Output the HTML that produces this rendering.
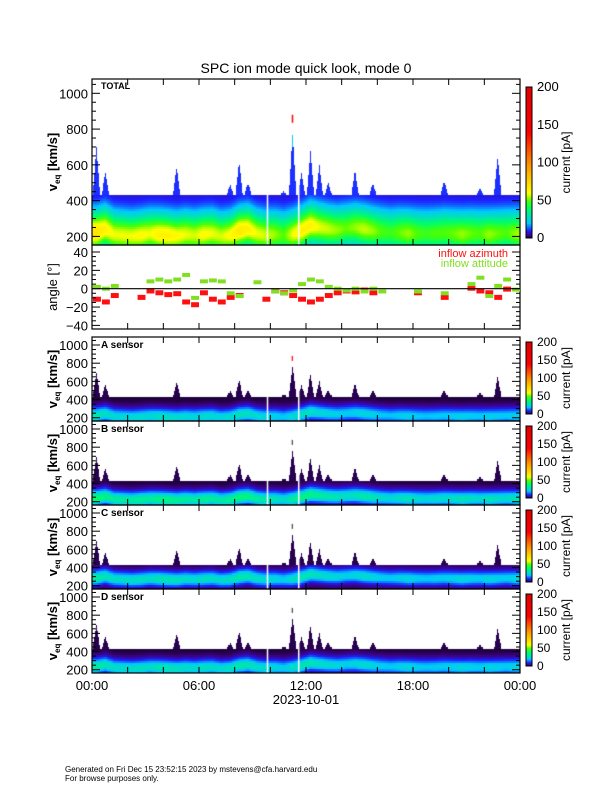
<!DOCTYPE html>
<html><head><meta charset="utf-8"><style>
html,body{margin:0;padding:0;background:#fff;}
#wrap{position:relative;width:612px;height:792px;overflow:hidden;font-family:"Liberation Sans",sans-serif;}
canvas{position:absolute;}
svg{position:absolute;left:0;top:0;}
</style></head><body>
<div id="wrap">
<canvas id="cv" width="612" height="792" style="left:0;top:0"></canvas>
<svg id="sv" width="612" height="792"></svg>
</div>
<script>
// ---- data (30-min samples, 0..23.5 h) ----
const hours = [0,0.5,1,1.5,2,2.5,3,3.5,4,4.5,5,5.5,6,6.5,7,7.5,8,8.5,9,9.5,10,10.5,11,11.5,12,12.5,13,13.5,14,14.5,15,15.5,16,16.5,17,17.5,18,18.5,19,19.5,20,20.5,21,21.5,22,22.5,23,23.5];
const peakSpeed = [220,240,210,205,200,205,215,210,205,200,210,205,210,215,200,205,230,240,215,205,210,205,210,230,260,250,240,235,245,250,240,230,225,220,220,215,215,215,215,220,215,210,215,215,210,215,220,215];
const peakCurrent = [60,55,50,50,50,52,50,55,55,52,50,48,52,50,48,52,58,55,50,48,45,40,50,55,55,50,48,45,42,45,48,45,40,38,42,45,40,38,40,40,42,45,42,40,45,42,40,45];
const upperSpeed = [700,560,430,430,430,430,430,430,430,590,430,430,430,430,430,490,620,500,430,430,430,450,780,560,680,600,500,430,430,570,430,500,430,430,430,430,430,430,430,510,430,430,430,470,430,650,430,430];
const azimuth = [-12,-15,-8,null,null,-10,-3,-5,-7,-6,-15,-18,-5,-12,-15,-10,-8,null,null,-12,-3,-5,-8,-12,-15,-12,-8,-5,-3,-4,-2,-5,null,null,null,null,-5,null,null,-10,null,null,0,-3,-5,-10,-1,null];
const attitude = [2,0,3,null,null,null,8,10,8,10,15,-10,8,9,8,-5,-8,null,7,null,-3,-5,-2,5,10,8,2,0,-2,0,-3,0,-3,null,null,null,-3,null,null,-5,null,null,5,12,-8,3,10,-1];
const gapHours = [9.8,11.55];
const sensorNames = ["A sensor","B sensor","C sensor","D sensor"];
const sensorGain = [0.65,0.85,0.7,0.7];
const sensorShift = [0,15,60,10];
const vTicks = [200,400,600,800,1000];
const angleTicks = [40,20,0,-20,-40];
const cbTicks = [0,50,100,150,200];
const timeLabels = ["00:00","06:00","12:00","18:00","00:00"];

const X0=92,X1=520;
const xOf=h=>X0+(X1-X0)*h/24;
const cv=document.getElementById('cv'),ctx=cv.getContext('2d');
const sv=document.getElementById('sv');const NS="http://www.w3.org/2000/svg";
function el(tag,attrs,parent){const e=document.createElementNS(NS,tag);for(const k in attrs)e.setAttribute(k,attrs[k]);(parent||sv).appendChild(e);return e;}
function txt(s,attrs){const t=el('text',attrs);t.textContent=s;return t;}

const stops=[[0,0,0,0],[0.015,60,0,120],[0.05,30,30,255],[0.1,0,200,255],[0.2,0,255,100],[0.25,80,255,0],[0.3,255,255,0],[0.5,255,140,0],[0.7,255,0,0],[1,225,0,0]];
function cmap(v){let f=Math.max(0,Math.min(1,v/200));for(let i=1;i<stops.length;i++){if(f<=stops[i][0]){const a=stops[i-1],b=stops[i],t=(f-a[0])/(b[0]-a[0]);return `rgb(${Math.round(a[1]+t*(b[1]-a[1]))},${Math.round(a[2]+t*(b[2]-a[2]))},${Math.round(a[3]+t*(b[3]-a[3]))})`;}}return 'rgb(225,0,0)';}
function interp(arr,h){let i=h/0.5-0.5;if(i<0)i=0;if(i>arr.length-1)i=arr.length-1;const a=Math.floor(i),b=Math.min(arr.length-1,a+1),t=i-a;return arr[a]+(arr[b]-arr[a])*t;}
function spikeTop(h){const i=Math.min(upperSpeed.length-1,Math.floor(h/0.5));const frac=h/0.5-i;const up=upperSpeed[i];const k=Math.max(0,1-Math.abs(frac-0.5)*2.4);return 430+(up-430)*k;}

function spectro(top,bot,vTop,vBot,gain,shift,bg,w,isTotal){
  const vy=v=>top+(vTop-v)/(vTop-vBot)*(bot-top);
  for(let x=X0;x<X1;x+=1){
    const h=(x-X0+0.5)/(X1-X0)*24;
    const pk=interp(peakSpeed,h)+shift,amp=interp(peakCurrent,h)*gain,up=spikeTop(h);
    for(let y=top;y<bot;y+=2){
      const v=vTop-(y+1-top)/(bot-top)*(vTop-vBot);
      if(v>Math.max(430,up))continue;
      let I;
      if(v>430){I=isTotal?(v>700?20:11):2;}
      else{const ww=v<pk?w*0.8:w;I=amp*Math.exp(-Math.pow((v-pk)/ww,2))+bg*(1-(v-150)/900);}
      ctx.fillStyle=cmap(I);ctx.fillRect(x,y,1,2);
    }
  }
  gapHours.forEach(g=>{ctx.fillStyle='#fff';ctx.fillRect(xOf(g),top,1.5,bot-top);});
  if(isTotal){ctx.fillStyle='#f00';ctx.fillRect(xOf(11.2),vy(880),1.5,8);}
  else{ctx.fillStyle=shift===0?'#f00':'#444';ctx.fillRect(xOf(11.2),vy(880),1.2,5);}
}

function vAxes(top,bot,vTop,vBot,name,minorStep){
  const vy=v=>top+(vTop-v)/(vTop-vBot)*(bot-top);
  el('rect',{x:X0,y:top,width:X1-X0,height:bot-top,fill:'none',stroke:'#000','stroke-width':1.2,});
  for(let v=200;v<vTop;v+=minorStep){if(v<vBot)continue;const y=vy(v);const L=(v%200===0)?8:4;
    el('line',{x1:X0,x2:X0+L,y1:y,y2:y,stroke:'#000'});el('line',{x1:X1,x2:X1-L,y1:y,y2:y,stroke:'#000'});}
  vTicks.forEach(v=>{const t=txt(String(v),{x:88,y:vy(v)+5,'text-anchor':'end','font-size':13,fill:'#000'});});
  for(let h=0;h<=24;h+=2){const x=xOf(h);el('line',{x1:x,x2:x,y1:top,y2:top+6,stroke:'#000'});el('line',{x1:x,x2:x,y1:bot,y2:bot-6,stroke:'#000'});}
  const cy=(top+bot)/2;const g=el('text',{transform:`translate(57,${cy}) rotate(-90)`,'text-anchor':'middle','font-size':13,'font-weight':'bold',fill:'#000',});
  g.innerHTML='v<tspan font-size="8" dy="3">eq</tspan><tspan dy="-3"> [km/s]</tspan>';
}
function colorbar(top,bot,name,fs){
  const x=526,w=6;
  for(let y=top;y<bot;y++){const v=(bot-y)/(bot-top)*200;ctx.fillStyle=cmap(v);ctx.fillRect(x,y,w,1);}
  el('rect',{x:x,y:top,width:w,height:bot-top,fill:'none',stroke:'#000','stroke-width':1,});
  cbTicks.forEach(c=>{const y=bot-(c/200)*(bot-top);txt(String(c),{x:537,y:y+4,'font-size':fs,fill:'#000'});});
  txt('current [pA]',{transform:`translate(570,${(top+bot)/2}) rotate(-90)`,'text-anchor':'middle','font-size':12,fill:'#000',});
}

txt('SPC ion mode quick look, mode 0',{x:306,y:73,'text-anchor':'middle','font-size':14,fill:'#000',});

spectro(79,245,1080,152,1,0,10,116,true);
vAxes(79,245,1080,152,'total-panel',50);
txt('TOTAL',{x:101,y:89,'font-size':9,'font-weight':'bold',fill:'#000',});
colorbar(87,238,'total',13);

const aT=245,aB=329,ay=a=>288.7-a*(36.7/40);
el('rect',{x:X0,y:aT,width:X1-X0,height:aB-aT,fill:'none',stroke:'#000','stroke-width':1.2,});
const dx=(X1-X0)/48;
azimuth.forEach((a,i)=>{if(a===null)return;const r=el('rect',{x:xOf(hours[i])+1,y:ay(a)-3,width:dx-1,height:5,fill:'#ff1010'});});
attitude.forEach((a,i)=>{if(a===null)return;const r=el('rect',{x:xOf(hours[i])+1,y:ay(a)-2,width:dx-1,height:4,fill:'#80e020'});});
el('line',{x1:X0,x2:X1,y1:ay(0),y2:ay(0),stroke:'#000','stroke-width':1.2,});
for(let a=-40;a<=40;a+=5){const y=ay(a);const L=a%20===0?8:4;el('line',{x1:X0,x2:X0+L,y1:y,y2:y,stroke:'#000'});el('line',{x1:X1,x2:X1-L,y1:y,y2:y,stroke:'#000'});}
angleTicks.forEach(a=>{txt(a<0?'\u2212'+(-a):String(a),{x:88,y:ay(a)+5,'text-anchor':'end','font-size':13,fill:'#000'});});
for(let h=0;h<=24;h+=2){const x=xOf(h);el('line',{x1:x,x2:x,y1:aB,y2:aB-6,stroke:'#000'});}
txt('angle [°]',{transform:'translate(57,287) rotate(-90)','text-anchor':'middle','font-size':13,fill:'#000',});
txt('inflow azimuth',{x:508,y:257,'text-anchor':'end','font-size':11,fill:'#ff1010',});
txt('inflow attitude',{x:508,y:267,'text-anchor':'end','font-size':11,fill:'#80e020',});

sensorNames.forEach((n,i)=>{
  const top=337+84*i,bot=top+84;
  spectro(top,bot,1088,164,sensorGain[i]*0.75,sensorShift[i],2,85,false);
  const key=n.split(' ')[0].toLowerCase()+'-sensor';
  vAxes(top,bot,1088,164,key,50);
  const t=txt(n,{x:101,y:top+11,'font-size':10,'font-weight':'bold',fill:'#000'});
  
  colorbar(top+5,bot-7,key,12);
});

timeLabels.forEach((l,i)=>{txt(l,{x:xOf(i*6),y:690,'text-anchor':'middle','font-size':13,fill:'#000',});});
txt('2023-10-01',{x:306,y:704,'text-anchor':'middle','font-size':13,fill:'#000',});
txt('Generated on Fri Dec 15 23:52:15 2023 by mstevens@cfa.harvard.edu',{x:65,y:772,'font-size':8,fill:'#000',});
txt('For browse purposes only.',{x:65,y:781,'font-size':8,fill:'#000',});
</script>
</body></html>
